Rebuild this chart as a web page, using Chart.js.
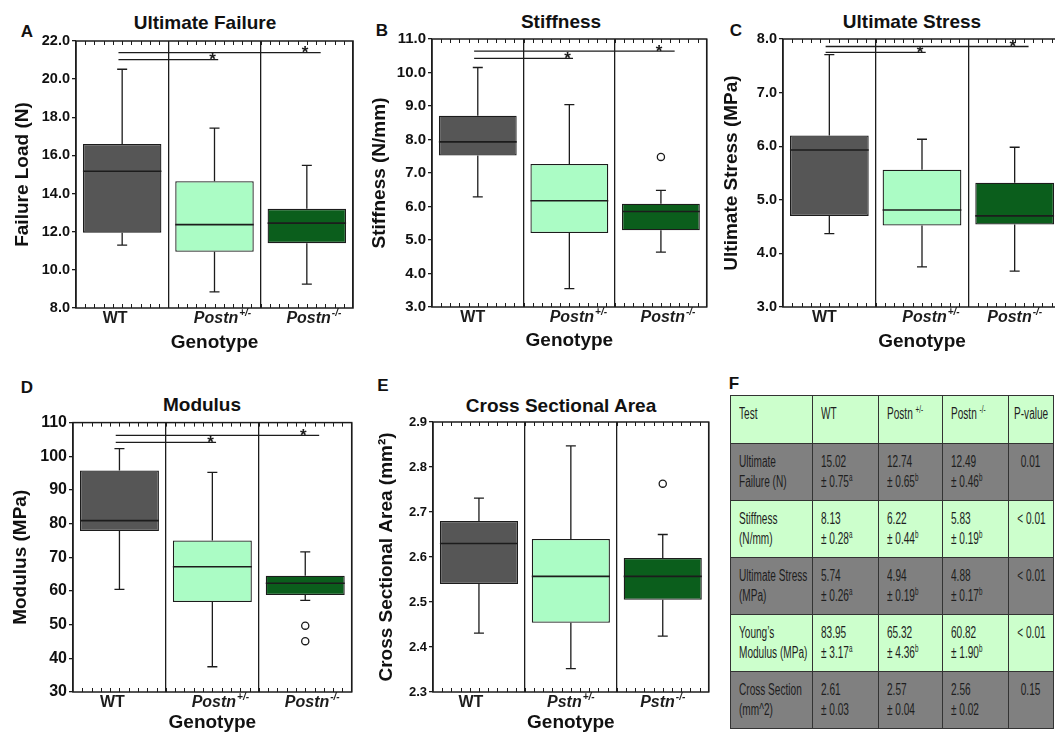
<!DOCTYPE html>
<html>
<head>
<meta charset="utf-8">
<script src="https://cdn.jsdelivr.net/npm/chart.js@4.4.1/dist/chart.umd.min.js"></script>
<style>
    html, body { margin: 0; padding: 0; overflow: hidden; background: #fff; }
    body { position: relative; width: 1055px; height: 734px; font-family: "Liberation Sans", Arial, sans-serif; color: #111; }
    canvas { position: absolute; }
    .letter { position: absolute; font-weight: bold; font-size: 17px; line-height: 1; transform: translate(-50%, -50%); }
    .title { position: absolute; font-weight: bold; font-size: 19px; line-height: 1; white-space: nowrap; transform: translate(-50%, -50%); }
    #summary { position: absolute; left: 730px; top: 395px; width: 323px; border-collapse: collapse; table-layout: fixed;
               font-family: "Liberation Sans", Arial, sans-serif; font-size: 16px; color: #1e1e1e; }
    #summary td { border: 1.5px solid #333; vertical-align: top; padding: 8px 0 0 8px; line-height: 20px; white-space: nowrap; overflow: hidden; }
    #summary td span { display: inline-block; transform: scaleX(0.63); transform-origin: 0 0; }
    #summary td.p { text-align: center; padding-left: 0; }
    #summary td.p span { transform-origin: 50% 0; margin: 0 -30px; }
    #summary tr.head td { height: 39px; }
    #summary tr.body td { height: 48px; }
    #summary tr.green td { background: #ccffcc; }
    #summary tr.gray td { background: #808080; }
    #summary sup { font-size: 10px; line-height: 0; }
</style>
</head>
<body>
<div class="letter" style="left:27px;top:31px">A</div>
<div class="letter" style="left:382px;top:30px">B</div>
<div class="letter" style="left:736px;top:30px">C</div>
<div class="letter" style="left:27px;top:387px">D</div>
<div class="letter" style="left:383px;top:385px">E</div>
<div class="letter" style="left:734px;top:383px">F</div>

<div class="title" style="left:205px;top:22px">Ultimate Failure</div>
<div class="title" style="left:561px;top:21px">Stiffness</div>
<div class="title" style="left:912px;top:21px">Ultimate Stress</div>
<div class="title" style="left:202px;top:404px">Modulus</div>
<div class="title" style="left:561px;top:405px">Cross Sectional Area</div>

<canvas id="failure-chart" width="358" height="330" style="left:0px;top:30px"></canvas>
<canvas id="stiffness-chart" width="352" height="332" style="left:360px;top:28px"></canvas>
<canvas id="stress-chart" width="353" height="332" style="left:713px;top:28px"></canvas>
<canvas id="modulus-chart" width="357" height="323" style="left:0px;top:411px"></canvas>
<canvas id="area-chart" width="351" height="323" style="left:363px;top:411px"></canvas>

<table id="summary">
    <colgroup><col style="width:82px"><col style="width:66px"><col style="width:64px"><col style="width:66px"><col style="width:45px"></colgroup>
    <tbody id="summary-body"></tbody>
</table>

<script>
// Genotypes
const genotypes = ['WT', 'Postn+/-', 'Postn-/-'];
const areaGenotypes = ['WT', 'Pstn+/-', 'Pstn-/-'];

// A - Ultimate failure (N)
const failureMin = [11.3, 8.85, 9.25];
const failureQ1 = [11.95, 10.95, 11.4];
const failureMedian = [15.17, 12.37, 12.45];
const failureQ3 = [16.6, 14.65, 13.2];
const failureMax = [20.52, 17.43, 15.48];
const failureOutliers = [[], [], []];
const failureSig = [[0, 1, 21.02], [0, 2, 21.39]];
const failureTicks = [8, 22, 2];

// B - Stiffness (N/mm)
const stiffMin = [6.29, 3.55, 4.64];
const stiffQ1 = [7.52, 5.21, 5.29];
const stiffMedian = [7.93, 6.17, 5.85];
const stiffQ3 = [8.71, 7.27, 6.08];
const stiffMax = [10.15, 9.04, 6.48];
const stiffOutliers = [[], [], [7.48]];
const stiffSig = [[0, 1, 10.42], [0, 2, 10.64]];
const stiffTicks = [3, 11, 1];

// C - Ultimate stress (MPa)
const stressMin = [4.37, 3.75, 3.67];
const stressQ1 = [4.70, 4.52, 4.54];
const stressMedian = [5.93, 4.81, 4.70];
const stressQ3 = [6.20, 5.56, 5.32];
const stressMax = [7.71, 6.13, 5.98];
const stressOutliers = [[], [], []];
const stressSig = [[0, 1, 7.75], [0, 2, 7.86]];
const stressTicks = [3, 8, 1];

// D - Modulus (MPa)
const modMin = [60.5, 37.5, 57.2];
const modQ1 = [77.8, 56.7, 58.8];
const modMedian = [80.9, 67.2, 62.3];
const modQ3 = [95.8, 75.0, 64.5];
const modMax = [102.3, 95.2, 71.6];
const modOutliers = [[], [], [49.7, 45.1]];
const modSig = [[0, 1, 104.1], [0, 2, 106.2]];
const modTicks = [30, 110, 10];

// E - Cross sectional area (mm^2)
const areaMin = [2.431, 2.352, 2.424];
const areaQ1 = [2.540, 2.454, 2.505];
const areaMedian = [2.630, 2.557, 2.557];
const areaQ3 = [2.680, 2.640, 2.598];
const areaMax = [2.731, 2.847, 2.650];
const areaOutliers = [[], [], [2.763]];
const areaSig = [];
const areaTicks = [2.3, 2.9, 0.1];

// F - summary table
const tableHeader = ['Test', 'WT', 'Postn +/-', 'Postn -/-', 'P-value'];
const tableTests = [['Ultimate', 'Failure (N)'], ['Stiffness', '(N/mm)'], ['Ultimate Stress', '(MPa)'], ['Young\u2019s', 'Modulus (MPa)'], ['Cross Section', '(mm^2)']];
const tableMeans = [['15.02', '12.74', '12.49'], ['8.13', '6.22', '5.83'], ['5.74', '4.94', '4.88'], ['83.95', '65.32', '60.82'], ['2.61', '2.57', '2.56']];
const tableErrors = [['0.75', '0.65', '0.46'], ['0.28', '0.44', '0.19'], ['0.26', '0.19', '0.17'], ['3.17', '4.36', '1.90'], ['0.03', '0.04', '0.02']];
const tableGroups = [['a', 'b', 'b'], ['a', 'b', 'b'], ['a', 'b', 'b'], ['a', 'b', 'b'], ['', '', '']];
const tablePValues = ['0.01', '< 0.01', '< 0.01', '< 0.01', '0.15'];

const boxColors = ['#565656', '#abfcc5', '#0b5e1c'];
const INK = '#1c1c1c';
const FONT = '"Liberation Sans", Arial, sans-serif';

// medians, whiskers, frame, minor ticks, significance bars, genotype labels
const boxExtras = {
    id: 'boxExtras',
    afterDraw(chart, args, opts) {
        const { ctx, chartArea: a, scales: { x, y } } = chart;
        const bars = chart.getDatasetMeta(0).data;
        ctx.save();
        ctx.strokeStyle = INK;
        ctx.lineWidth = 1.3;

        bars.forEach((bar, i) => {
            const half = bar.width / 2;
            const yMed = y.getPixelForValue(opts.median[i]);
            const yQ1 = y.getPixelForValue(opts.q1[i]);
            const yQ3 = y.getPixelForValue(opts.q3[i]);
            const yLo = y.getPixelForValue(opts.min[i]);
            const yHi = y.getPixelForValue(opts.max[i]);
            ctx.beginPath();
            ctx.moveTo(bar.x, yQ3); ctx.lineTo(bar.x, yHi);
            ctx.moveTo(bar.x - 5, yHi); ctx.lineTo(bar.x + 5, yHi);
            ctx.moveTo(bar.x, yQ1); ctx.lineTo(bar.x, yLo);
            ctx.moveTo(bar.x - 5, yLo); ctx.lineTo(bar.x + 5, yLo);
            ctx.stroke();
            ctx.beginPath();
            ctx.lineWidth = 1.6;
            ctx.moveTo(bar.x - half, yMed); ctx.lineTo(bar.x + half, yMed);
            ctx.stroke();
            ctx.lineWidth = 1.3;
        });

        // frame + minor ticks on top and bottom
        ctx.lineWidth = 1.5;
        ctx.strokeRect(a.left, a.top, a.width, a.height);
        ctx.lineWidth = 1;
        ctx.beginPath();
        const n = genotypes.length * 10;
        for (let k = 1; k < n; k++) {
            const px = Math.round(a.left + k * a.width / n) + 0.5;
            ctx.moveTo(px, a.top); ctx.lineTo(px, a.top + 4);
            ctx.moveTo(px, a.bottom); ctx.lineTo(px, a.bottom - 4);
        }
        ctx.stroke();

        // significance bars
        ctx.lineWidth = 1.3;
        ctx.fillStyle = INK;
        ctx.font = `bold 17px ${FONT}`;
        ctx.textAlign = 'center';
        ctx.textBaseline = 'middle';
        opts.sig.forEach(([from, to, val]) => {
            const yy = y.getPixelForValue(val);
            const x0 = x.getPixelForValue(from - 0.04);
            const x1 = x.getPixelForValue(to + (to - from > 1 ? 0.15 : 0.04));
            ctx.beginPath();
            ctx.moveTo(x0, yy); ctx.lineTo(x1, yy);
            ctx.stroke();
            ctx.fillText('*', x.getPixelForValue(to - 0.02), yy + 1);
        });

        // genotype labels with superscripts
        const ly = a.bottom + 11;
        chart.data.labels.forEach((label, i) => {
            const m = label.match(/^(\w+?)([+-]\/-)?$/);
            const base = m[1], sup = m[2] || '';
            const italic = sup ? 'italic ' : '';
            ctx.font = `${italic}bold 16px ${FONT}`;
            const wb = ctx.measureText(base).width;
            ctx.font = `italic bold 10px ${FONT}`;
            const ws = sup ? ctx.measureText(sup).width + 1 : 0;
            const cx = x.getPixelForValue(i) + opts.shift[i];
            const sx = cx - (wb + ws) / 2;
            ctx.textAlign = 'left';
            ctx.font = `${italic}bold 16px ${FONT}`;
            ctx.fillText(base, sx, ly);
            if (sup) {
                ctx.font = `italic bold 10px ${FONT}`;
                ctx.fillText(sup, sx + wb + 1, ly - 6);
            }
        });
        ctx.restore();
    }
};

function buildBoxChart(canvasId, labels, stats, ticks, yTitle, look) {
    const [yMin, yMax, step] = ticks;
    const decimals = step < 1 ? 1 : (yMax >= 100 ? 0 : 1);
    const outlierPoints = [];
    stats.outliers.forEach((vals, i) => vals.forEach(v => outlierPoints.push({ x: labels[i], y: v })));

    return new Chart(document.getElementById(canvasId), {
        type: 'bar',
        data: {
            labels: labels,
            datasets: [{
                data: labels.map((_, i) => [stats.q1[i], stats.q3[i]]),
                backgroundColor: boxColors,
                borderColor: INK,
                borderWidth: 1.3,
                borderSkipped: false,
                barPercentage: 0.85,
                categoryPercentage: 1.0
            }, {
                type: 'line',
                data: outlierPoints,
                showLine: false,
                pointRadius: 3.6,
                pointBackgroundColor: '#fff',
                pointBorderColor: INK,
                pointBorderWidth: 1.3
            }]
        },
        options: {
            responsive: false,
            animation: false,
            layout: { padding: { top: 11, right: 5, left: 0, bottom: 0 } },
            plugins: {
                legend: { display: false },
                tooltip: { enabled: false },
                boxExtras: { ...stats, shift: look.shift }
            },
            scales: {
                x: {
                    type: 'category',
                    offset: true,
                    ticks: { display: false },
                    grid: { display: true, offset: true, drawTicks: false, color: INK, lineWidth: 1.3 },
                    border: { display: false },
                    title: {
                        display: true,
                        text: 'Genotype',
                        color: '#111',
                        font: { family: FONT, weight: 'bold', size: 19 },
                        padding: { top: 0, bottom: look.xTitlePad }
                    },
                    afterFit: s => { s.height = look.xHeight; }
                },
                y: {
                    min: yMin,
                    max: yMax,
                    ticks: {
                        stepSize: step,
                        color: '#111',
                        padding: 2,
                        font: { family: FONT, weight: 'bold', size: look.tickSize },
                        callback: v => Number(v).toFixed(decimals)
                    },
                    grid: { display: true, drawOnChartArea: false, drawTicks: true, tickLength: 4, color: INK, lineWidth: 1.3 },
                    border: { display: false },
                    title: {
                        display: true,
                        text: yTitle,
                        color: '#111',
                        font: { family: FONT, weight: 'bold', size: 19 },
                        padding: { top: look.yTitlePad, bottom: 0 }
                    },
                    afterFit: s => { s.width = look.yWidth; }
                }
            }
        },
        plugins: [boxExtras]
    });
}

buildBoxChart('failure-chart', genotypes,
    { min: failureMin, q1: failureQ1, median: failureMedian, q3: failureQ3, max: failureMax, outliers: failureOutliers, sig: failureSig },
    failureTicks, 'Failure Load (N)',
    { yWidth: 76, xHeight: 52, yTitlePad: 11, xTitlePad: 6, tickSize: 14.5, shift: [-7, 8, 7] });

buildBoxChart('stiffness-chart', genotypes,
    { min: stiffMin, q1: stiffQ1, median: stiffMedian, q3: stiffQ3, max: stiffMax, outliers: stiffOutliers, sig: stiffSig },
    stiffTicks, 'Stiffness (N/mm)',
    { yWidth: 72, xHeight: 53, yTitlePad: 8, xTitlePad: 8, tickSize: 15, shift: [-5, 9, 7] });

buildBoxChart('stress-chart', genotypes,
    { min: stressMin, q1: stressQ1, median: stressMedian, q3: stressQ3, max: stressMax, outliers: stressOutliers, sig: stressSig },
    stressTicks, 'Ultimate Stress (MPa)',
    { yWidth: 70, xHeight: 53, yTitlePad: 7, xTitlePad: 7, tickSize: 14.5, shift: [-5, 9, 0] });

buildBoxChart('modulus-chart', genotypes,
    { min: modMin, q1: modQ1, median: modMedian, q3: modQ3, max: modMax, outliers: modOutliers, sig: modSig },
    modTicks, 'Modulus (MPa)',
    { yWidth: 73, xHeight: 42, yTitlePad: 9, xTitlePad: 0, tickSize: 16, shift: [-7, 8, 7] });

buildBoxChart('area-chart', areaGenotypes,
    { min: areaMin, q1: areaQ1, median: areaMedian, q3: areaQ3, max: areaMax, outliers: areaOutliers, sig: areaSig },
    areaTicks, 'Cross Sectional Area (mm\u00B2)',
    { yWidth: 70, xHeight: 42, yTitlePad: 12, xTitlePad: 0, tickSize: 13, shift: [-8, 0, 0] });

// Summary table
function renderSummaryTable() {
    const tbody = document.getElementById('summary-body');
    const head = tableHeader.map((h, i) => {
        const m = h.match(/^(\w+) ([+-]\/-)$/);
        const txt = m ? `${m[1]} <sup>${m[2]}</sup>` : h;
        return `<td${i === 4 ? ' class="p"' : ''}><span>${txt}</span></td>`;
    }).join('');
    let html = `<tr class="head green">${head}</tr>`;
    tableTests.forEach((test, r) => {
        const cls = r % 2 === 0 ? 'gray' : 'green';
        const cells = tableMeans[r].map((mean, c) => {
            const g = tableGroups[r][c];
            return `<td><span>${mean}<br>\u00B1 ${tableErrors[r][c]}${g ? `<sup>${g}</sup>` : ''}</span></td>`;
        }).join('');
        html += `<tr class="body ${cls}"><td><span>${test[0]}<br>${test[1]}</span></td>${cells}<td class="p"><span>${tablePValues[r]}</span></td></tr>`;
    });
    tbody.innerHTML = html;
}
renderSummaryTable();
</script>
</body>
</html>
